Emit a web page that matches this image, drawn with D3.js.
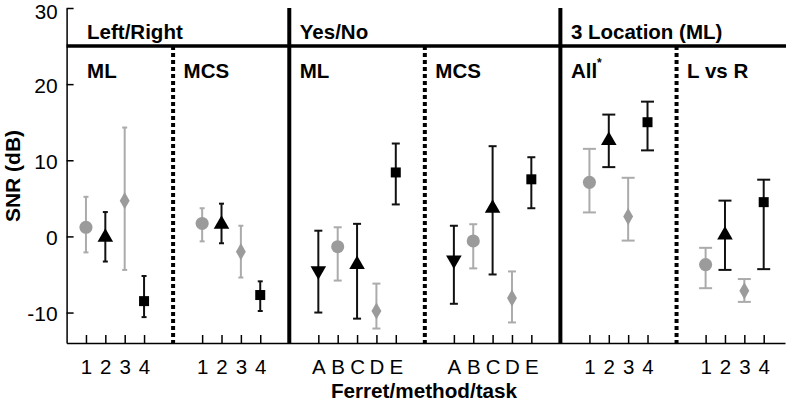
<!DOCTYPE html>
<html>
<head>
<meta charset="utf-8">
<script src="https://cdn.jsdelivr.net/npm/d3@7"></script>
<style>
  html, body { margin: 0; padding: 0; background: #fff; }
  svg { display: block; font-family: Arial, "Liberation Sans", sans-serif; }
</style>
</head>
<body>
<svg id="chart" width="788" height="403"></svg>
<script>
// ---------- data ----------
// one entry per panel; x positions are slot indices on a shared linear axis
const panelNames   = ["LR-ML", "LR-MCS", "YN-ML", "YN-MCS", "3L-All", "3L-LvR"];
const panelSlots   = [[1,2,3,4], [7,8,9,10], [13,14,15,16,17], [20,21,22,23,24], [27,28,29,30], [33,34,35,36]];
const panelTicks   = [["1","2","3","4"], ["1","2","3","4"], ["A","B","C","D","E"], ["A","B","C","D","E"], ["1","2","3","4"], ["1","2","3","4"]];
const panelShapes  = [
  ["circle","up","diamond","square"],
  ["circle","up","diamond","square"],
  ["down","circle","up","diamond","square"],
  ["down","circle","up","diamond","square"],
  ["circle","up","diamond","square"],
  ["circle","up","diamond","square"]
];
const panelMeans = [
  [1.2, -0.1, 4.7, -8.5],
  [1.7, 1.6, -2.0, -7.7],
  [-4.5, -1.35, -3.7, -9.8, 8.4],
  [-3.1, -0.6, 3.7, -8.1, 7.5],
  [7.1, 12.6, 2.6, 15.0],
  [-3.7, 0.2, -7.15, 4.5]
];
const panelHigh = [
  [5.2, 3.2, 14.3, -5.2],
  [3.7, 4.3, 1.4, -5.9],
  [0.75, 1.2, 1.65, -6.2, 12.2],
  [1.4, 1.6, 11.85, -4.6, 10.4],
  [11.5, 16.0, 7.7, 17.7],
  [-1.5, 4.7, -5.6, 7.45]
];
const panelLow = [
  [-2.1, -3.3, -4.4, -10.6],
  [-0.65, -0.9, -5.4, -9.8],
  [-10.0, -5.8, -10.8, -12.1, 4.2],
  [-8.85, -4.2, -5.0, -11.3, 3.7],
  [3.15, 9.1, -0.55, 11.3],
  [-6.8, -4.4, -8.6, -4.3]
];
const panelCaps = [5, 5, 8, 8, 13, 13];

const yTicks = [-10, 0, 10, 20, 30];
const groupTitles = ["Left/Right", "Yes/No", "3 Location (ML)"];
const groupTitleSlot = [0, 11.5, 25.5];
const subTitles = ["ML", "MCS", "ML", "MCS", "All", "L vs R"];
const subTitleSlot = [0, 5.5, 11.5, 18.5, 25.5, 31.5];
const solidSeps = [11.5, 25.5];
const dottedSeps = [5.5, 18.5, 31.5];

// ---------- scales ----------
const svg = d3.select("#chart");
const x = d3.scaleLinear().domain([0, 37.1]).range([66.6, 785]);
const y = d3.scaleLinear().domain([-14, 30]).range([343, 8]);

const FONT = "Arial, 'Liberation Sans', sans-serif";
const GREY_M = "#9b9b9b", GREY_B = "#ababab", BLACK = "#000";

// ---------- axes ----------
const allSlots = panelSlots.flat();
const allTicks = panelTicks.flat();
const tickLabelOf = new Map(allSlots.map((s, i) => [s, allTicks[i]]));

const yAxis = svg.append("g").attr("transform", `translate(${x(0)},0)`)
  .call(d3.axisLeft(y).tickValues(yTicks).tickFormat(d => String(d))
        .tickSizeInner(-7).tickSizeOuter(0).tickPadding(9));
const xAxis = svg.append("g").attr("transform", `translate(0,${y(-14)})`)
  .call(d3.axisBottom(x).tickValues(allSlots).tickFormat(d => tickLabelOf.get(d))
        .tickSizeInner(-8).tickSizeOuter(0).tickPadding(16));
[yAxis, xAxis].forEach(g => {
  g.selectAll("path, line").attr("stroke", "#000").attr("stroke-width", 1.5);
  g.selectAll("text").attr("font-family", FONT).attr("fill", "#000");
});
yAxis.selectAll("text").attr("font-size", 21).attr("dy", "0.38em");
// keep the topmost label fully inside the picture
yAxis.selectAll(".tick").filter(d => d === 30).select("text").attr("font-size", 20.5).attr("dy", "0.52em");
xAxis.selectAll("text").attr("font-size", 20.5);

// ---------- separators ----------
svg.append("line").attr("x1", x(0)).attr("x2", 786).attr("y1", y(25)).attr("y2", y(25))
  .attr("stroke", "#000").attr("stroke-width", 3.5);
svg.selectAll(".solid").data(solidSeps).join("line")
  .attr("x1", d => x(d)).attr("x2", d => x(d)).attr("y1", y(30)).attr("y2", y(-14))
  .attr("stroke", "#000").attr("stroke-width", 4);
svg.selectAll(".dotted").data(dottedSeps).join("line")
  .attr("x1", d => x(d)).attr("x2", d => x(d)).attr("y1", y(25)).attr("y2", y(-14))
  .attr("stroke", "#000").attr("stroke-width", 4).attr("stroke-dasharray", "4,3");

// ---------- titles ----------
svg.selectAll(".gt").data(groupTitles).join("text")
  .attr("x", (d, i) => x(groupTitleSlot[i]) + (i === 0 ? 20.5 : 10.5)).attr("y", 38.5)
  .attr("font-family", FONT).attr("font-weight", "bold").attr("font-size", 20.5).text(d => d);
const st = svg.selectAll(".st").data(subTitles).join("text")
  .attr("x", (d, i) => x(subTitleSlot[i]) + (i === 0 ? 20.5 : 10.5)).attr("y", 78)
  .attr("font-family", FONT).attr("font-weight", "bold").attr("font-size", 20.5).text(d => d);
st.filter((d, i) => i === 4).append("tspan").attr("dy", -11).attr("font-size", 12).text("*");

svg.append("text").attr("x", 424).attr("y", 398).attr("text-anchor", "middle")
  .attr("font-family", FONT).attr("font-weight", "bold").attr("font-size", 20.7).text("Ferret/method/task");
svg.append("text").attr("transform", "translate(20,176) rotate(-90)").attr("text-anchor", "middle")
  .attr("font-family", FONT).attr("font-weight", "bold").attr("font-size", 21).text("SNR (dB)");

// ---------- points ----------
const pts = [];
panelSlots.forEach((slots, p) => slots.forEach((s, i) => pts.push({
  slot: s, shape: panelShapes[p][i], mean: panelMeans[p][i],
  hi: panelHigh[p][i], lo: panelLow[p][i], cap: panelCaps[p]
})));
const isGrey = d => d.shape === "circle" || d.shape === "diamond";

const eb = svg.append("g").selectAll("g").data(pts).join("g")
  .attr("stroke", d => isGrey(d) ? GREY_B : "#111").attr("stroke-width", 2);
eb.append("line").attr("x1", d => x(d.slot)).attr("x2", d => x(d.slot))
  .attr("y1", d => y(d.hi)).attr("y2", d => y(d.lo));
eb.append("line").attr("x1", d => x(d.slot) - d.cap / 2).attr("x2", d => x(d.slot) + d.cap / 2)
  .attr("y1", d => y(d.hi)).attr("y2", d => y(d.hi));
eb.append("line").attr("x1", d => x(d.slot) - d.cap / 2).attr("x2", d => x(d.slot) + d.cap / 2)
  .attr("y1", d => y(d.lo)).attr("y2", d => y(d.lo));

const symOf = {
  circle: d3.symbol(d3.symbolCircle, 135),
  square: d3.symbol(d3.symbolSquare, 100),
  diamond: d3.symbol(d3.symbolDiamond, 85),
  up: d3.symbol(d3.symbolTriangle, 105),
  down: d3.symbol(d3.symbolTriangle, 105)
};
svg.append("g").selectAll("path").data(pts).join("path")
  .attr("d", d => symOf[d.shape]())
  .attr("transform", d => `translate(${x(d.slot)},${y(d.mean)})` + (d.shape === "down" ? " rotate(180)" : ""))
  .attr("fill", d => isGrey(d) ? GREY_M : BLACK);
</script>
</body>
</html>
